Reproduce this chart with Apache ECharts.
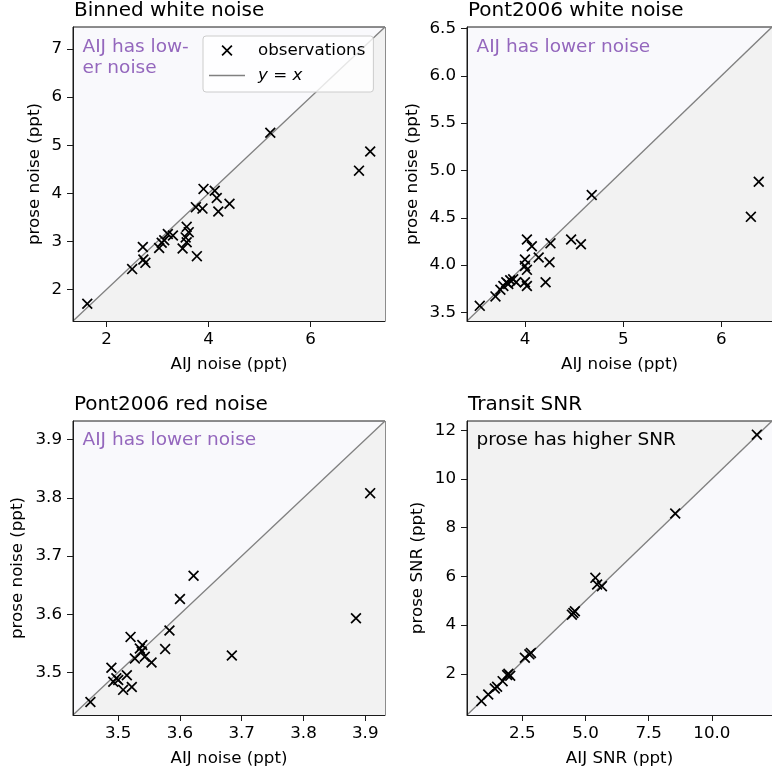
<!DOCTYPE html>
<html>
<head>
<meta charset="utf-8">
<script src="https://cdn.jsdelivr.net/npm/echarts@6/dist/echarts.min.js"></script>
<style>
  html, body { margin: 0; padding: 0; background: #fff; }
  #chart { width: 772px; height: 773px; }
</style>
</head>
<body>
<div id="chart"></div>
<script>
// Binned white noise (ppt)
const binnedAij = [1.62, 2.50, 2.71, 2.72, 2.76, 3.03, 3.08, 3.13, 3.20, 3.30, 3.49, 3.55, 3.57, 3.57, 3.61, 3.77, 3.75, 3.88, 3.90, 4.12, 4.16, 4.19, 4.41, 5.21, 6.95, 7.17];
const binnedProse = [1.70, 2.42, 2.88, 2.62, 2.55, 2.86, 2.97, 3.02, 3.15, 3.12, 2.85, 3.08, 2.98, 3.30, 3.19, 2.69, 3.71, 3.68, 4.09, 4.05, 3.90, 3.62, 3.78, 5.26, 4.47, 4.87];

// Pont2006 white noise (ppt)
const pontWhiteAij = [3.54, 3.70, 3.75, 3.78, 3.81, 3.83, 3.85, 3.88, 3.91, 4.00, 4.00, 4.02, 4.00, 4.02, 4.02, 4.07, 4.14, 4.26, 4.25, 4.21, 4.47, 4.57, 4.68, 6.30, 6.38];
const pontWhiteProse = [3.57, 3.67, 3.74, 3.78, 3.82, 3.80, 3.84, 3.85, 3.82, 4.06, 3.99, 3.95, 3.82, 3.78, 4.27, 4.20, 4.08, 4.23, 4.03, 3.82, 4.27, 4.22, 4.74, 4.51, 4.88];

// Pont2006 red noise (ppt)
const pontRedAij = [3.455, 3.489, 3.492, 3.497, 3.500, 3.508, 3.514, 3.522, 3.520, 3.527, 3.535, 3.539, 3.538, 3.543, 3.554, 3.576, 3.583, 3.600, 3.622, 3.684, 3.885, 3.908];
const pontRedProse = [3.449, 3.508, 3.484, 3.490, 3.487, 3.470, 3.495, 3.475, 3.561, 3.524, 3.541, 3.547, 3.536, 3.527, 3.517, 3.540, 3.572, 3.626, 3.666, 3.529, 3.593, 3.808];

// Transit SNR
const snrAij = [0.88, 1.15, 1.41, 1.50, 1.72, 1.90, 1.95, 2.02, 2.60, 2.78, 2.84, 4.46, 4.52, 4.58, 5.39, 5.46, 5.65, 8.55, 11.78];
const snrProse = [0.88, 1.15, 1.40, 1.47, 1.70, 1.95, 2.00, 1.92, 2.66, 2.80, 2.86, 4.43, 4.50, 4.57, 5.94, 5.67, 5.60, 8.58, 11.82];

// axis limits and ticks
const binnedLim = [1.34, 7.46];
const binnedXTicks = [2, 4, 6];
const binnedYTicks = [2, 3, 4, 5, 6, 7];
const pontWhiteLim = [3.41, 6.515];
const pontWhiteXTicks = [4, 5, 6];
const pontWhiteYTicks = [3.5, 4.0, 4.5, 5.0, 5.5, 6.0, 6.5];
const pontRedLim = [3.4268, 3.932];
const pontRedTicks = [3.5, 3.6, 3.7, 3.8, 3.9];
const snrLim = [0.31, 12.38];
const snrXTicks = [2.5, 5.0, 7.5, 10.0];
const snrYTicks = [2, 4, 6, 8, 10, 12];

const FONT = "DejaVu Sans";
const PURPLE = "#9467bd";
const LIGHT = "#f9f9fc";
const GRAY = "#f2f2f2";
const SPINE = "#1a1a1a";
const XMARK = "path://M0,1.1L1.1,0L5,3.9L8.9,0L10,1.1L6.1,5L10,8.9L8.9,10L5,6.1L1.1,10L0,8.9L3.9,5Z";

const panels = [
  { title: "Binned white noise", left: 73, top: 27, width: 312, x: binnedAij, y: binnedProse, lim: binnedLim,
    xTicks: binnedXTicks, yTicks: binnedYTicks, xDec: 0, yDec: 0, xName: "AIJ noise (ppt)", yName: "prose noise (ppt)",
    yGap: 30, bg: LIGHT, area: GRAY },
  { title: "Pont2006 white noise", left: 467, top: 27, width: 310, x: pontWhiteAij, y: pontWhiteProse, lim: pontWhiteLim,
    xTicks: pontWhiteXTicks, yTicks: pontWhiteYTicks, xDec: 0, yDec: 1, xName: "AIJ noise (ppt)", yName: "prose noise (ppt)",
    yGap: 46, bg: LIGHT, area: GRAY },
  { title: "Pont2006 red noise", left: 73, top: 421, width: 312, x: pontRedAij, y: pontRedProse, lim: pontRedLim,
    xTicks: pontRedTicks, yTicks: pontRedTicks, xDec: 1, yDec: 1, xName: "AIJ noise (ppt)", yName: "prose noise (ppt)",
    yGap: 47, bg: LIGHT, area: GRAY },
  { title: "Transit SNR", left: 467, top: 421, width: 310, x: snrAij, y: snrProse, lim: snrLim,
    xTicks: snrXTicks, yTicks: snrYTicks, xDec: 1, yDec: 0, xName: "AIJ SNR (ppt)", yName: "prose SNR (ppt)",
    yGap: 41, bg: GRAY, area: LIGHT },
];

const grid = [], xAxis = [], yAxis = [], series = [], graphic = [];

const axisCommon = (ticks, dec) => ({
  type: "value",
  axisLine: { show: true, lineStyle: { color: SPINE, width: 1 } },
  axisTick: { show: true, inside: false, length: 6, lineStyle: { color: SPINE, width: 1 }, customValues: ticks },
  axisLabel: {
    color: "#000", fontFamily: FONT, fontSize: 16.7, customValues: ticks,
    formatter: (v) => v.toFixed(dec),
  },
  splitLine: { show: false },
  nameTextStyle: { color: "#000", fontFamily: FONT, fontSize: 16.7 },
  nameLocation: "middle",
  z: 5,
});

panels.forEach((p, i) => {
  grid.push({ left: p.left, top: p.top, width: p.width, height: 294, show: true, backgroundColor: p.bg,
    borderColor: SPINE, borderWidth: 1 });
  xAxis.push(Object.assign(axisCommon(p.xTicks, p.xDec), {
    gridIndex: i, min: p.lim[0], max: p.lim[1], name: p.xName, nameGap: 35,
  }));
  xAxis[i].axisLabel.margin = 10;
  yAxis.push(Object.assign(axisCommon(p.yTicks, p.yDec), {
    gridIndex: i, min: p.lim[0], max: p.lim[1], name: p.yName, nameGap: p.yGap, nameRotate: 90,
  }));
  yAxis[i].axisLabel.margin = 11;

  series.push({
    name: i === 0 ? "y = x" : "diag" + i,
    type: "line", xAxisIndex: i, yAxisIndex: i,
    data: [[p.lim[0], p.lim[0]], [p.lim[1], p.lim[1]]],
    symbol: "none", showSymbol: false, silent: true, z: 1,
    lineStyle: { color: "#808080", width: 1.3 },
    itemStyle: { color: "#808080" },
    areaStyle: { color: p.area, opacity: 1, origin: "start" },
  });
  series.push({
    name: i === 0 ? "observations" : "obs" + i,
    type: "scatter", xAxisIndex: i, yAxisIndex: i,
    data: p.x.map((v, k) => [v, p.y[k]]),
    symbol: XMARK, symbolSize: 11, z: 3,
    itemStyle: { color: "#000", opacity: 1 },
  });

  graphic.push({
    type: "text", left: p.left + 1, top: p.top - 26,
    style: { text: p.title, fontFamily: FONT, fontSize: 20, fill: "#000" },
  });
});

const noteStyle = (text, color, align) => ({
  text, fontFamily: FONT, fontSize: 18.5, fill: color, align, verticalAlign: "middle", lineHeight: 21,
});
graphic.push(
  { type: "text", x: 82.5, y: 57.5, style: noteStyle("AIJ has low-\ner noise", PURPLE, "left") },
  { type: "text", x: 375.5, y: 296, style: noteStyle("prose has lower noise", "#000", "right") },
  { type: "text", x: 476.5, y: 47, style: noteStyle("AIJ has lower noise", PURPLE, "left") },
  { type: "text", x: 768, y: 296, style: noteStyle("prose has lower noise", "#000", "right") },
  { type: "text", x: 82.5, y: 440, style: noteStyle("AIJ has lower noise", PURPLE, "left") },
  { type: "text", x: 375.5, y: 690, style: noteStyle("prose has lower noise", "#000", "right") },
  { type: "text", x: 476.5, y: 440, style: noteStyle("prose has higher SNR", "#000", "left") },
  { type: "text", x: 768, y: 690, style: noteStyle("AIJ has higher SNR", PURPLE, "right") }
);

const chart = echarts.init(document.getElementById("chart"), null, { renderer: "canvas" });

chart.setOption({
  animation: false,
  backgroundColor: "#fff",
  grid, xAxis, yAxis, series, graphic,
  legend: {
    data: [
      { name: "observations" },
      { name: "y = x", icon: "path://M0,0L36,0L36,1.3L0,1.3Z", itemStyle: { color: "#808080" } },
    ],
    orient: "vertical",
    left: 203, top: 36,
    itemWidth: 36, itemHeight: 11, itemGap: 8,
    padding: [6, 8, 8, 6],
    backgroundColor: "rgba(255,255,255,0.8)",
    borderColor: "#cccccc", borderWidth: 1, borderRadius: 3,
    selectedMode: false,
    textStyle: {
      color: "#000", fontFamily: FONT, fontSize: 16.7, lineHeight: 17, padding: [0, 0, 0, 8],
      rich: { i: { fontStyle: "italic", fontFamily: FONT, fontSize: 16.7 } },
    },
    formatter: (name) => (name === "y = x" ? "{i|y} = {i|x}" : name),
  },
});

window.addEventListener("resize", () => chart.resize());
</script>
</body>
</html>
